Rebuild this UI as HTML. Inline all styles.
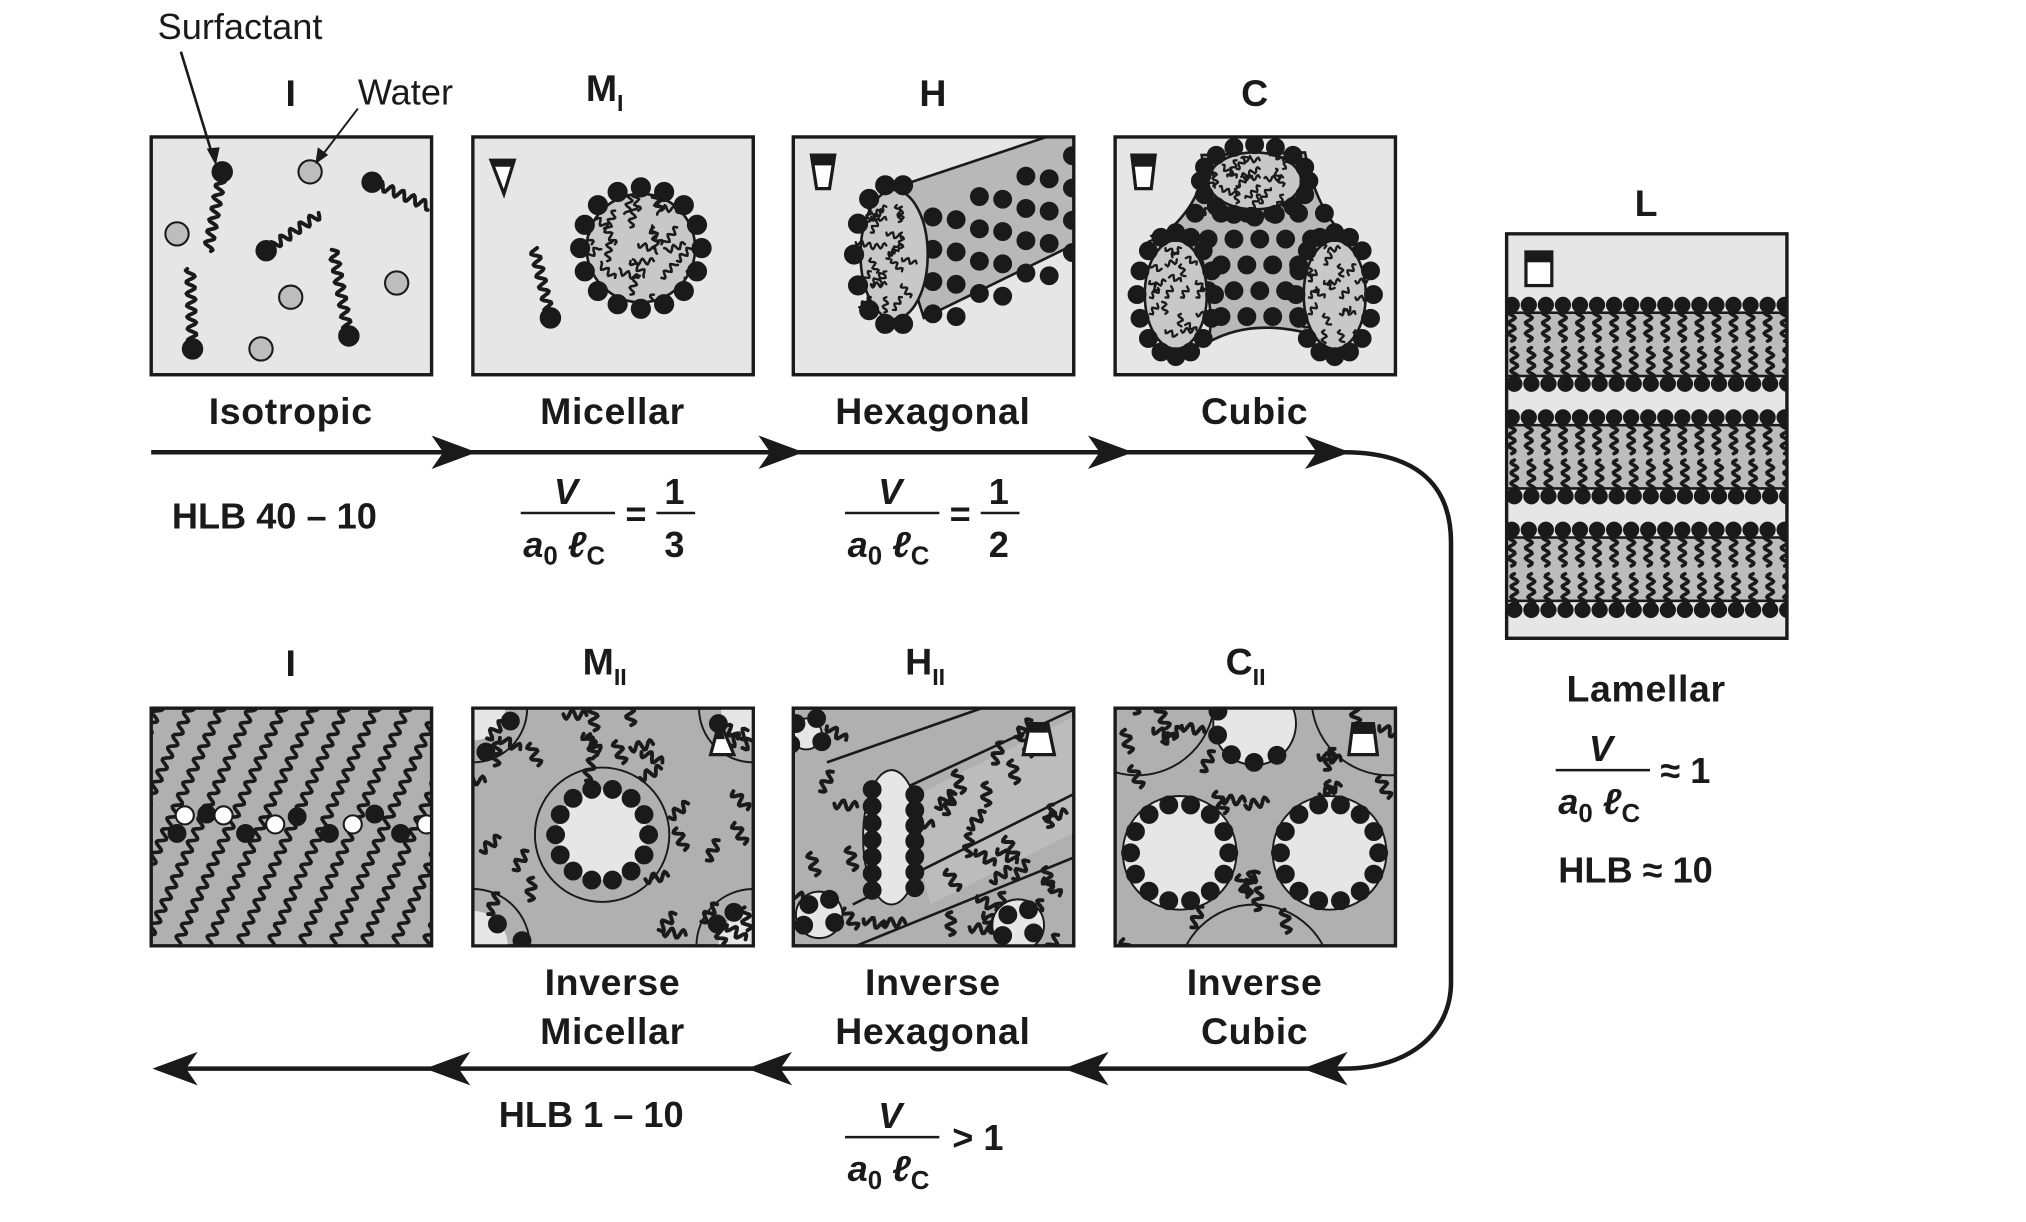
<!DOCTYPE html>
<html><head><meta charset="utf-8"><style>
html,body{margin:0;padding:0;background:#fff;}
svg{display:block;}
text{font-family:"Liberation Sans",Arial,sans-serif;fill:#1a1a1a;}
.t{font-weight:bold;font-size:29px;text-anchor:middle;}
.l{font-weight:bold;font-size:29px;text-anchor:middle;letter-spacing:0.5px;}
.f{font-weight:bold;font-size:28px;}
.fi{font-weight:bold;font-style:italic;font-size:28px;}
</style></head><body>
<svg id="s" width="2026" height="1222" viewBox="0 0 1568 945.7" preserveAspectRatio="none" xmlns="http://www.w3.org/2000/svg">
<defs>
<clipPath id="c1"><rect x="117" y="106" width="217" height="184"/></clipPath>
<clipPath id="c2"><rect x="366" y="106" width="217" height="184"/></clipPath>
<clipPath id="c3"><rect x="614" y="106" width="217" height="184"/></clipPath>
<clipPath id="c4"><rect x="863" y="106" width="217" height="184"/></clipPath>
<clipPath id="d1"><rect x="117" y="548" width="217" height="184"/></clipPath>
<clipPath id="d2"><rect x="366" y="548" width="217" height="184"/></clipPath>
<clipPath id="d3"><rect x="614" y="548" width="217" height="184"/></clipPath>
<clipPath id="d4"><rect x="863" y="548" width="217" height="184"/></clipPath>
<clipPath id="cl"><rect x="1166" y="181" width="217" height="313"/></clipPath>
<clipPath id="mic"><circle cx="496" cy="192" r="42"/></clipPath>
</defs>
<g id="g"></g>
<text x="122" y="30" style="font-size:28px">Surfactant</text>
<text x="277" y="81" style="font-size:28px">Water</text>
<line x1="140" y1="40" x2="165" y2="122" stroke="#1a1a1a" stroke-width="2"/>
<polygon points="167,128 160,115 170,114" fill="#1a1a1a"/>
<line x1="277" y1="84" x2="248" y2="122" stroke="#1a1a1a" stroke-width="1.5"/>
<polygon points="244,127 246,114 254,120" fill="#1a1a1a"/>
<text class="t" x="225" y="82">I</text>
<text class="t" x="468" y="78">M<tspan font-size="18" dy="8">I</tspan></text>
<text class="t" x="722" y="82">H</text>
<text class="t" x="971" y="82">C</text>
<text class="t" x="1274" y="167">L</text>
<text class="t" x="225" y="523">I</text>
<text class="t" x="468" y="522">M<tspan font-size="18" dy="8">II</tspan></text>
<text class="t" x="716" y="522">H<tspan font-size="18" dy="8">II</tspan></text>
<text class="t" x="964" y="522">C<tspan font-size="18" dy="8">II</tspan></text>
<text class="l" x="225" y="328">Isotropic</text>
<text class="l" x="474" y="328">Micellar</text>
<text class="l" x="722" y="328">Hexagonal</text>
<text class="l" x="971" y="328">Cubic</text>
<text class="l" x="474" y="770">Inverse</text>
<text class="l" x="474" y="808">Micellar</text>
<text class="l" x="722" y="770">Inverse</text>
<text class="l" x="722" y="808">Hexagonal</text>
<text class="l" x="971" y="770">Inverse</text>
<text class="l" x="971" y="808">Cubic</text>
<text class="l" x="1274" y="543">Lamellar</text>
<text class="f" x="133" y="409">HLB  40 – 10</text>
<text class="f" x="386" y="872">HLB  1 – 10</text>
<text class="f" x="1206" y="683">HLB ≈ 10</text>
<g id="fr"></g>
<g stroke="#1a1a1a" stroke-width="3.5" fill="none">
<path d="M117,350 H1040 C1090,350 1123,370 1123,420 V760 C1123,800 1090,827 1040,827 H122"/>
</g>
<g fill="#1a1a1a">
<polygon points="369,350 334,337 343,350 334,363"/>
<polygon points="622,350 587,337 596,350 587,363"/>
<polygon points="877,350 842,337 851,350 842,363"/>
<polygon points="1045,350 1010,337 1019,350 1010,363"/>
<polygon points="1008,827 1043,814 1034,827 1043,840"/>
<polygon points="823,827 858,814 849,827 858,840"/>
<polygon points="578,827 613,814 604,827 613,840"/>
<polygon points="329,827 364,814 355,827 364,840"/>
<polygon points="118,827 153,814 144,827 153,840"/>
</g>
</svg>
<script>
var NS="http://www.w3.org/2000/svg",G=document.getElementById("g");
var seed=7;function R(){seed=(seed*16807)%2147483647;return seed/2147483647;}
function el(t,a,p){var e=document.createElementNS(NS,t);for(var k in a)e.setAttribute(k,a[k]);(p||G).appendChild(e);return e;}
function grp(clip){return el("g",clip?{"clip-path":"url(#"+clip+")"}:{});}
var K="#1a1a1a";
function sq(p,x,y,len,ang,amp,w,wl){amp=amp||3.5;wl=wl||9;var d="",n=Math.max(4,Math.round(len/1.2)),ca=Math.cos(ang),sa=Math.sin(ang);
 for(var i=0;i<=n;i++){var s=i*len/n,o=amp*Math.sin(s/wl*Math.PI*2);d+=(i?"L":"M")+(x+ca*s-sa*o).toFixed(1)+","+(y+sa*s+ca*o).toFixed(1);}
 el("path",{d:d,stroke:K,"stroke-width":w||3,fill:"none","stroke-linejoin":"round","stroke-linecap":"round"},p);}
function dot(p,x,y,r,f){el("circle",{cx:x,cy:y,r:r||6,fill:f||K,stroke:K,"stroke-width":1.6},p);}
function surf(p,x,y,len,ang){sq(p,x,y,len,ang);dot(p,x,y,7.5);}
function box(x,y,w,h,f){el("rect",{x:x,y:y,width:w,height:h,fill:f,stroke:K,"stroke-width":2.5});}
function frame(x,y,w,h){el("rect",{x:x,y:y,width:w,height:h,fill:"none",stroke:K,"stroke-width":2.5});}
var LG="#e6e6e6",MG="#bcbcbc",DG="#b0b0b0";
// Box1
box(117,106,217,184,LG);var p=grp("c1");
[[172,133,62,1.75],[288,141,48,0.4],[206,194,50,-0.6],[270,260,68,-1.75],[149,270,62,-1.6]].forEach(function(s){surf(p,s[0],s[1],s[2],s[3]);});
[[240,133],[137,181],[307,219],[225,230],[202,270]].forEach(function(c){dot(p,c[0],c[1],9,"#bdbdbd");});
// Box2
box(366,106,217,184,LG);p=grp("c2");
el("circle",{cx:496,cy:192,r:42,fill:"#c8c8c8",stroke:K,"stroke-width":2},p);
var pm=el("g",{"clip-path":"url(#mic)"},p);for(var i=0;i<7;i++)for(var j=0;j<5;j++)sq(pm,452+j*18+(i%2)*6,150+i*13,16,R()*6,2.4,2,7);
for(var a=0;a<16;a++){var t=a/16*Math.PI*2;dot(p,496+47*Math.cos(t),192+47*Math.sin(t),7);}
surf(p,426,246,55,-1.8);
el("path",{d:"M380,124 L398,124 L390,150 Z",fill:"#fff",stroke:K,"stroke-width":2.5},p);el("path",{d:"M380,124 L398,124 L397,129 L381,129Z",fill:K},p);
// Box3
box(614,106,217,184,LG);p=grp("c3");
el("path",{d:"M684,148 L840,96 L840,185 L715,246 Z",fill:"#b8b8b8",stroke:K,"stroke-width":2},p);
for(var i=0;i<8;i++)for(var j=0;j<4;j++){var x=722+i*18,y=168+j*25-i*7+(i%2)*10;if(x<832)dot(p,x,y-(x-720)*0.05,6.5);}
el("ellipse",{cx:692,cy:197,rx:26,ry:50,fill:"#c8c8c8",stroke:K,"stroke-width":2},p);
for(var i=0;i<8;i++)for(var j=0;j<3;j++)sq(p,674+j*12,160+i*10,12,R()*6,2,1.8,6);
for(var a=0;a<14;a++){var t=a/14*Math.PI*2;if(Math.cos(t)<0.3)dot(p,692+31*Math.cos(t),197+55*Math.sin(t),7);}
el("path",{d:"M628,120 L646,120 L642,146 L632,146 Z",fill:"#fff",stroke:K,"stroke-width":2.5},p);el("rect",{x:628,y:120,width:18,height:8,fill:K},p);
// Box4
box(863,106,217,184,LG);p=grp("c4");
el("path",{d:"M905,178 Q935,150 930,120 L1010,118 Q1020,170 1050,190 Q1010,220 1020,260 Q970,245 935,265 Q945,220 905,178Z",fill:"#b8b8b8",stroke:K,"stroke-width":2},p);
for(var i=0;i<6;i++)for(var j=0;j<5;j++)dot(p,925+i*20+(j%2)*10,165+j*20,6.5);
[[971,140,36,22],[910,228,24,42],[1033,228,24,42]].forEach(function(e){el("ellipse",{cx:e[0],cy:e[1],rx:e[2],ry:e[3],fill:"#c8c8c8",stroke:K,"stroke-width":2},p);
 for(var i=0;i<6;i++)for(var j=0;j<4;j++)sq(p,e[0]-e[2]+4+j*e[2]/2,e[1]-e[3]+6+i*e[3]/3.3,e[2]/2.5,R()*6,2,1.8,6);
 for(var a=0;a<16;a++){var t=a/16*Math.PI*2;dot(p,e[0]+(e[2]+6)*Math.cos(t),e[1]+(e[3]+6)*Math.sin(t),6.5);}});
el("path",{d:"M876,120 L894,120 L891,146 L879,146 Z",fill:"#fff",stroke:K,"stroke-width":2.5},p);el("rect",{x:876,y:120,width:18,height:9,fill:K},p);
// Lamellar
box(1166,181,217,313,LG);p=grp("cl");
[[236,242,291,297],[323,329,378,384],[410,416,465,472]].forEach(function(b){
 el("rect",{x:1160,y:b[1],width:230,height:b[2]-b[1],fill:MG,stroke:K,"stroke-width":2},p);
 for(var i=0;i<17;i++){var x=1170+i*13.2;sq(p,x,b[0]+4,24,Math.PI/2,2.6,2.8,8);sq(p,x+2,b[3]-4,24,-Math.PI/2,2.6,2.8,8);dot(p,x,b[0],5.5);dot(p,x+2,b[3],5.5);}
});
el("rect",{x:1181,y:195,width:20,height:26,fill:"#fff",stroke:K,"stroke-width":2.5},p);el("rect",{x:1181,y:195,width:20,height:8,fill:K},p);
// bottom 1
box(117,548,217,184,DG);p=grp("d1");
for(var k=-6;k<12;k++){sq(p,100+k*24,760,260,-1.15,3.2,2.8,10);}
[[137,645],[160,630],[190,645],[230,632],[255,645],[290,630],[310,645]].forEach(function(c){dot(p,c[0],c[1],6.5);});
[[143,631],[173,631],[213,638],[273,638],[330,638]].forEach(function(c){dot(p,c[0],c[1],7,"#fff");});
// bottom 2
box(366,548,217,184,DG);p=grp("d2");
[[466,646,40],[366,548,30],[366,732,32],[583,548,30],[583,732,32]].forEach(function(c){el("circle",{cx:c[0],cy:c[1],r:c[2]+12,fill:"none",stroke:K,"stroke-width":1.5},p);el("circle",{cx:c[0],cy:c[1],r:c[2]-5,fill:LG},p);});
for(var i=0;i<45;i++){var x=370+R()*210,y=552+R()*176;if(Math.hypot(x-466,y-646)>52)sq(p,x,y,18,R()*6);}
for(var a=0;a<14;a++){var t=a/14*Math.PI*2;dot(p,466+36*Math.cos(t),646+36*Math.sin(t),6.5);}
[[376,582],[395,558],[385,715],[404,728],[555,715],[568,706],[556,560]].forEach(function(c){dot(p,c[0],c[1],6.5);});
el("path",{d:"M557,558 L550,584 L568,584 Z",fill:"#fff",stroke:K,"stroke-width":2.5},p);el("path",{d:"M557,558 L553,572 L561,572Z",fill:K},p);
// bottom 3
box(614,548,217,184,DG);p=grp("d3");
el("path",{d:"M700,620 L840,550 L840,640 L720,700 Z",fill:"#bcbcbc"},p);
[[640,590,760,548],[700,610,840,545],[660,700,840,610],[660,733,840,660]].forEach(function(l){el("line",{x1:l[0],y1:l[1],x2:l[2],y2:l[3],stroke:K,"stroke-width":2},p);});
el("ellipse",{cx:690,cy:648,rx:22,ry:52,fill:LG,stroke:K,"stroke-width":1.5},p);
for(var i=0;i<7;i++){dot(p,675,611+i*13,6.5);dot(p,708,615+i*12,6.5);}
for(var i=0;i<40;i++){var x=618+R()*210,y=552+R()*176;if(Math.abs(x-690)>30||Math.abs(y-648)>58)sq(p,x,y,18,R()*6);}
[[634,700,18],[788,708,20],[624,560,12]].forEach(function(c){el("circle",{cx:c[0],cy:c[1]+8,r:c[2],fill:LG,stroke:K,"stroke-width":1.5},p);dot(p,c[0]-8,c[1],6.5);dot(p,c[0]+8,c[1]-4,6.5);dot(p,c[0]+12,c[1]+14,6.5);dot(p,c[0]-12,c[1]+16,6.5);});
el("path",{d:"M797,560 L811,560 L816,584 L792,584 Z",fill:"#fff",stroke:K,"stroke-width":2.5},p);el("rect",{x:797,y:560,width:14,height:7,fill:K},p);
// bottom 4
box(863,548,217,184,DG);p=grp("d4");
[[971,760,60],[880,540,60],[1075,540,60]].forEach(function(c){el("circle",{cx:c[0],cy:c[1],r:c[2],fill:"none",stroke:K,"stroke-width":1.5},p);});
for(var i=0;i<50;i++){var x=867+R()*210,y=552+R()*176;if(Math.hypot(x-913,y-660)>50&&Math.hypot(x-1029,y-660)>50&&Math.hypot(x-971,y-565)>35)sq(p,x,y,18,R()*6);}
[[913,660],[1029,660]].forEach(function(c){el("circle",{cx:c[0],cy:c[1],r:44,fill:LG,stroke:K,"stroke-width":1.5},p);for(var a=0;a<14;a++){var t=a/14*Math.PI*2;dot(p,c[0]+38*Math.cos(t),c[1]+38*Math.sin(t),6.5);}});
el("circle",{cx:971,cy:560,r:32,fill:LG,stroke:K,"stroke-width":1.5},p);for(var a=2;a<9;a++){var t=a/10*Math.PI*2-0.3;dot(p,971+30*Math.cos(t),560+30*Math.sin(t),6.5);}
el("path",{d:"M1047,560 L1063,560 L1066,584 L1044,584 Z",fill:"#fff",stroke:K,"stroke-width":2.5},p);el("rect",{x:1047,y:560,width:16,height:8,fill:K},p);
[[117,106],[366,106],[614,106],[863,106],[117,548],[366,548],[614,548],[863,548]].forEach(function(b){frame(b[0],b[1],217,184);});
frame(1166,181,217,313);
var F=document.getElementById("fr");
function frac(x,y,rhs){el("text",{x:x+30,y:y-7,"class":"fi","text-anchor":"middle"},F).textContent="V";
 el("line",{x1:x-5,y1:y,x2:x+68,y2:y,stroke:K,"stroke-width":2},F);
 var t=el("text",{x:x-3,y:y+34,"class":"fi"},F);t.innerHTML='a<tspan font-size="20" dy="6" font-style="normal">0</tspan><tspan dy="-6"> ℓ</tspan><tspan font-size="20" dy="6" font-style="normal">C</tspan>';
 if(rhs)rhs(x,y);}
function half(d){return function(x,y){el("text",{x:x+76,y:y+10,"class":"f"},F).textContent="=";el("text",{x:x+114,y:y-7,"class":"f","text-anchor":"middle"},F).textContent="1";el("line",{x1:x+100,y1:y,x2:x+130,y2:y,stroke:K,"stroke-width":2},F);el("text",{x:x+114,y:y+34,"class":"f","text-anchor":"middle"},F).textContent=d;};}
frac(408,397,half("3"));
frac(659,397,half("2"));
frac(659,880,function(x,y){el("text",{x:x+78,y:y+10,"class":"f"},F).textContent="> 1";});
frac(1209,596,function(x,y){el("text",{x:x+76,y:y+10,"class":"f"},F).textContent="≈ 1";});
</script>
</body></html>
